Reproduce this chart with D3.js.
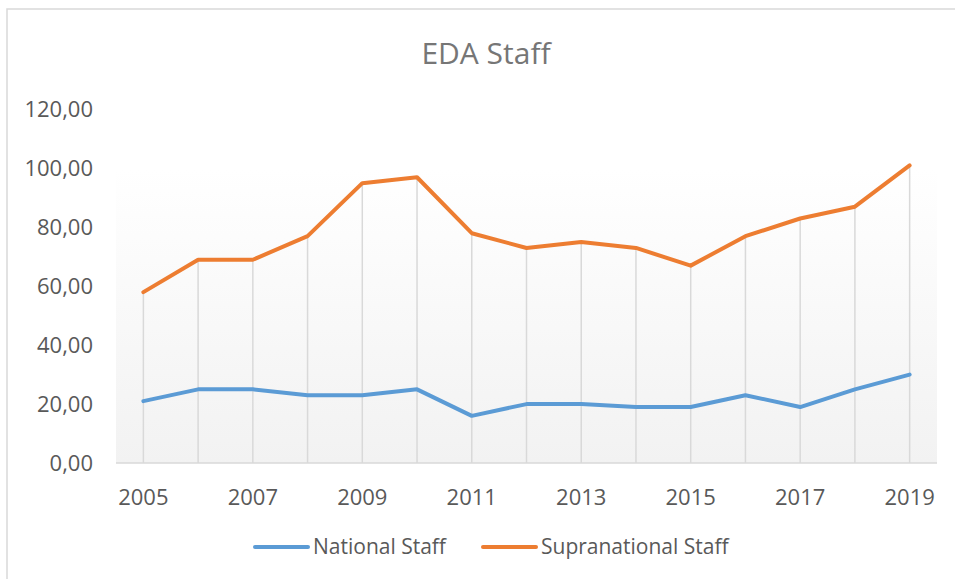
<!DOCTYPE html>
<html>
<head>
<meta charset="utf-8">
<script src="https://cdn.jsdelivr.net/npm/d3@7"></script>
<style>
  body { margin: 0; background: #fff; }
  text { font-family: "Open Sans", sans-serif; }
</style>
</head>
<body>
<svg id="chart" width="955" height="579"></svg>
<script>
const years = ["2005","2006","2007","2008","2009","2010","2011","2012","2013","2014","2015","2016","2017","2018","2019"];
const national = [21, 25, 25, 23, 23, 25, 16, 20, 20, 19, 19, 23, 19, 25, 30];
const supranational = [58, 69, 69, 77, 95, 97, 78, 73, 75, 73, 67, 77, 83, 87, 101];
const yTicks = [0, 20, 40, 60, 80, 100, 120];
const seriesNames = ["National Staff", "Supranational Staff"];
const colors = ["#5b9bd5", "#ed7d31"];

const svg = d3.select("#chart");

// chart frame
svg.append("path")
  .attr("d", "M7,579 V9 H955")
  .attr("fill", "none")
  .attr("stroke", "#d9d9d9")
  .attr("stroke-width", 1.5);

const margin = {left: 116, right: 18, top: 109.5, bottom: 116};
const w = 955 - margin.left - margin.right;
const h = 579 - margin.top - margin.bottom;

const x = d3.scaleBand().domain(years).range([0, w]);
const y = d3.scaleLinear().domain([0, 120]).range([h, 0]);

const g = svg.append("g").attr("transform", `translate(${margin.left},${margin.top})`);

// plot area gradient
const grad = svg.append("defs").append("linearGradient")
  .attr("id", "bg").attr("x1", 0).attr("y1", 0).attr("x2", 0).attr("y2", 1);
grad.append("stop").attr("offset", "0%").attr("stop-color", "#ffffff");
grad.append("stop").attr("offset", "100%").attr("stop-color", "#f2f2f2");

g.append("rect")
  .attr("x", 0).attr("y", y(100))
  .attr("width", w).attr("height", h - y(100))
  .attr("fill", "url(#bg)");

// drop lines
g.selectAll(".drop").data(years).join("line")
  .attr("class", "drop")
  .attr("x1", d => x(d) + x.bandwidth() / 2)
  .attr("x2", d => x(d) + x.bandwidth() / 2)
  .attr("y1", y(0))
  .attr("y2", (d, i) => y(Math.max(national[i], supranational[i])))
  .attr("stroke", "#d9d9d9")
  .attr("stroke-width", 1.5);

// baseline
g.append("line")
  .attr("x1", 0).attr("x2", w)
  .attr("y1", y(0)).attr("y2", y(0))
  .attr("stroke", "#d9d9d9")
  .attr("stroke-width", 1.5);

// y axis labels
const fmt = v => d3.format(".2f")(v).replace(".", ",");
g.selectAll(".ylab").data(yTicks).join("text")
  .attr("class", "ylab")
  .attr("x", -23)
  .attr("y", d => y(d))
  .attr("dy", "0.35em")
  .attr("text-anchor", "end")
  .attr("font-size", 22)
  .attr("fill", "#595959")
  .text(fmt);

// x axis labels (every other year)
g.selectAll(".xlab").data(years.filter((d, i) => i % 2 === 0)).join("text")
  .attr("class", "xlab")
  .attr("x", d => x(d) + x.bandwidth() / 2)
  .attr("y", y(0) + 42)
  .attr("text-anchor", "middle")
  .attr("font-size", 22)
  .attr("fill", "#595959")
  .text(d => d);

// lines
const line = d3.line()
  .x((d, i) => x(years[i]) + x.bandwidth() / 2)
  .y(d => y(d));

[national, supranational].forEach((s, k) => {
  g.append("path")
    .datum(s)
    .attr("d", line)
    .attr("fill", "none")
    .attr("stroke", colors[k])
    .attr("stroke-width", 4)
    .attr("stroke-linecap", "round")
    .attr("stroke-linejoin", "round");
});

// title
svg.append("text")
  .attr("x", 486)
  .attr("y", 64)
  .attr("text-anchor", "middle")
  .attr("font-size", 30)
  .attr("fill", "#767676")
  .text("EDA Staff");

// legend
const legendX = [255, 483];
seriesNames.forEach((name, k) => {
  const lg = svg.append("g").attr("transform", `translate(${legendX[k]},547)`);
  lg.append("line")
    .attr("x1", 0).attr("x2", 53)
    .attr("stroke", colors[k])
    .attr("stroke-width", 4)
    .attr("stroke-linecap", "round");
  lg.append("text")
    .attr("x", 58)
    .attr("dy", "0.35em")
    .attr("font-size", 21)
    .attr("fill", "#595959")
    .text(name);
});
</script>
</body>
</html>
